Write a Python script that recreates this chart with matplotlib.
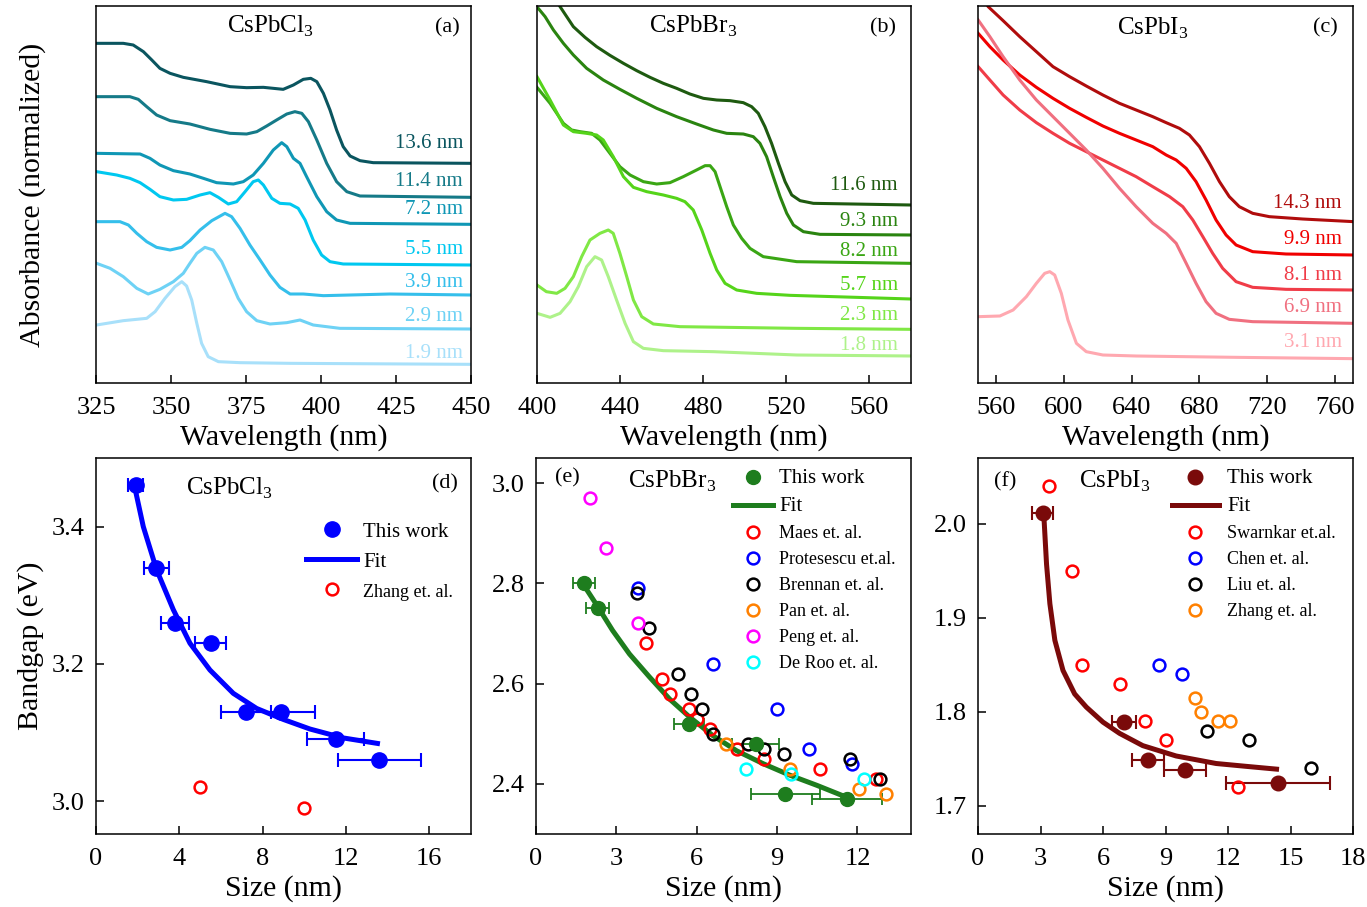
import matplotlib
matplotlib.use("Agg")
import matplotlib.pyplot as plt

plt.rcParams['font.family'] = 'Liberation Serif'
plt.rcParams['mathtext.fontset'] = 'custom'
plt.rcParams['mathtext.rm'] = 'Liberation Serif'
plt.rcParams['axes.linewidth'] = 1.1

# ---- absorbance spectra (offset, normalized) ----
cl_curves = {
    "13.6 nm": ([325.2, 334.1, 337.4, 340.8, 343.6, 346.3, 349.7, 354.1, 361.9, 369.7, 375.2, 380.8, 387.4, 390.8, 394.1,
                 396.6, 398.6, 400.8, 403, 405.2, 407.4, 409.7, 413, 417.4, 450],
                [10.10, 10.10, 10.05, 9.85, 9.60, 9.35, 9.20, 9.08, 8.95, 8.80, 8.77, 8.78, 8.72, 8.85, 9.02,
                 9.05, 8.95, 8.60, 8.10, 7.50, 7.00, 6.72, 6.58, 6.52, 6.50]),
    "11.4 nm": ([325.2, 336.3, 339.1, 341.9, 345.2, 349.7, 356.3, 363, 369.7, 375.2, 378.6, 381.9, 385.2, 388.6, 391.3,
                 393.6, 395.8, 398.6, 401.9, 405.2, 408.6, 413, 450],
                [8.50, 8.50, 8.42, 8.20, 7.95, 7.78, 7.68, 7.52, 7.40, 7.38, 7.45, 7.62, 7.80, 7.98, 8.05,
                 8.00, 7.75, 7.20, 6.50, 5.95, 5.65, 5.52, 5.48]),
    "7.2 nm": ([325.2, 339.7, 343, 346.3, 350.8, 356.3, 360.8, 365.2, 370.8, 374.1, 377.4, 380.8, 384.1, 386.9, 388.6,
                390.8, 393, 395.2, 398.6, 401.9, 405.2, 409.7, 450],
               [6.80, 6.78, 6.65, 6.45, 6.28, 6.18, 6.05, 5.92, 5.88, 5.95, 6.15, 6.50, 6.90, 7.12, 7.00,
                6.65, 6.50, 6.10, 5.50, 5.05, 4.80, 4.70, 4.67]),
    "5.5 nm": ([325.2, 331.9, 336.3, 339.7, 343, 346.3, 350.8, 355.2, 359.7, 363, 365.8, 369.1, 371.9, 374.7, 377.4,
                379.1, 380.8, 383.6, 386.3, 389.7, 392.4, 394.7, 397.4, 400.2, 403, 407.4, 450],
               [6.25, 6.15, 6.05, 5.92, 5.72, 5.50, 5.40, 5.42, 5.55, 5.62, 5.48, 5.28, 5.35, 5.65, 5.95,
                6.00, 5.85, 5.45, 5.30, 5.28, 5.15, 4.80, 4.20, 3.75, 3.55, 3.48, 3.45]),
    "3.9 nm": ([325.2, 333, 335.8, 338.6, 341.9, 345.2, 349.7, 353.6, 356.3, 359.7, 363.6, 368, 370.2, 373, 376.3,
                379.7, 383, 386.3, 389.7, 394.1, 400.8, 423, 450],
               [4.75, 4.75, 4.65, 4.40, 4.15, 3.98, 3.90, 3.98, 4.18, 4.50, 4.78, 5.00, 4.90, 4.55, 4.05,
                3.60, 3.15, 2.78, 2.58, 2.58, 2.53, 2.58, 2.55]),
    "2.9 nm": ([325.2, 329.7, 334.1, 338.6, 342.4, 346.3, 350.8, 354.1, 356.3, 358.6, 361.3, 364.1, 366.9, 369.7, 372.4,
                375.2, 378.6, 383, 388.6, 393, 397.4, 406.3, 450],
               [3.50, 3.35, 3.10, 2.75, 2.58, 2.72, 2.95, 3.20, 3.50, 3.80, 3.98, 3.90, 3.55, 3.00, 2.45,
                2.05, 1.78, 1.68, 1.72, 1.80, 1.65, 1.55, 1.53]),
    "1.9 nm": ([325.2, 334.1, 341.9, 344.7, 348, 351.3, 353.6, 355.2, 356.9, 358.6, 360.2, 362.4, 365.8, 373, 389.7, 450],
               [1.65, 1.78, 1.85, 2.05, 2.45, 2.80, 2.95, 2.82, 2.40, 1.70, 1.10, 0.70, 0.55, 0.52, 0.50, 0.47]),
}
cl_colors = ["#0a555f", "#157a88", "#0f97b5", "#00c8f0", "#35bfeb", "#6ed2f5", "#a8e0fa"]
cl_label_y = [7.10, 5.95, 5.10, 3.92, 2.92, 1.90, 0.80]

br_curves = {
    "11.6 nm": ([406, 411.1, 414.3, 417.5, 423.1, 428.7, 435.1, 441.6, 448, 454.4, 460.8, 467.2, 473.6, 480.1, 486.5,
                 492.9, 499.3, 503.3, 506.5, 509.7, 512.9, 516.2, 519.4, 522.6, 526.6, 533, 580],
                [11.75, 11.20, 10.90, 10.60, 10.28, 10.00, 9.74, 9.50, 9.28, 9.08, 8.90, 8.75, 8.58, 8.45, 8.40,
                 8.38, 8.32, 8.20, 8.00, 7.60, 7.10, 6.50, 5.95, 5.55, 5.38, 5.30, 5.25]),
    "9.3 nm": ([400.6, 403.9, 407.9, 412.7, 417.5, 423.9, 431.9, 439.9, 448, 457.6, 467.2, 476.8, 484.9, 491.3, 499.3,
                504.1, 507.3, 510.5, 513.7, 517, 520.2, 523.4, 528.2, 536.2, 580],
               [11.15, 10.90, 10.50, 10.10, 9.75, 9.35, 9.00, 8.72, 8.45, 8.15, 7.90, 7.68, 7.50, 7.40, 7.38,
                7.30, 7.10, 6.70, 6.10, 5.50, 5.00, 4.65, 4.45, 4.37, 4.35]),
    "8.2 nm": ([400, 406.3, 412.7, 416.7, 420.7, 426.3, 430.3, 435.1, 439.9, 444.8, 451.2, 457.6, 464, 470.4, 476.8,
                480.9, 483.3, 485.7, 488.1, 491.3, 494.5, 498.5, 502.5, 508.9, 525, 580],
               [8.78, 8.30, 7.70, 7.50, 7.45, 7.40, 7.20, 6.80, 6.40, 6.15, 5.95, 5.88, 5.92, 6.10, 6.30,
                6.43, 6.43, 6.25, 5.80, 5.20, 4.65, 4.25, 3.95, 3.70, 3.55, 3.50]),
    "5.7 nm": ([400, 406.3, 412.7, 417.5, 423.9, 428.7, 431.9, 436.7, 441.6, 446.4, 452.8, 460.8, 467.2, 471.2, 475.2,
                479.3, 483.3, 486.5, 490.5, 496.1, 505.7, 521.8, 580],
               [9.10, 8.40, 7.65, 7.45, 7.40, 7.35, 7.20, 6.70, 6.10, 5.78, 5.65, 5.55, 5.45, 5.35, 5.10,
                4.50, 3.80, 3.30, 2.90, 2.70, 2.60, 2.54, 2.43]),
    "2.3 nm": ([400, 404.5, 409.5, 413.5, 417.5, 421.5, 425.5, 430.3, 434.3, 436.7, 439.9, 443.2, 446.4, 450.4, 456,
                468.8, 525, 580],
               [2.85, 2.65, 2.60, 2.75, 3.10, 3.70, 4.20, 4.40, 4.50, 4.40, 3.80, 3.10, 2.40, 1.90, 1.68,
                1.60, 1.55, 1.52]),
    "1.8 nm": ([400, 406.3, 411.1, 415.9, 419.9, 423.9, 427.9, 431.1, 434.3, 438.3, 442.4, 446.4, 451.2, 460.8, 484.9,
                525, 580],
               [2.00, 1.88, 2.00, 2.35, 2.80, 3.40, 3.70, 3.60, 3.10, 2.40, 1.70, 1.15, 0.95, 0.88, 0.85,
                0.75, 0.72]),
}
br_colors = ["#1e5a10", "#2a8410", "#3aa614", "#55d41a", "#80e845", "#aef28a"]
br_label_y = [5.85, 4.75, 3.85, 2.82, 1.95, 1.05]

i_curves = {
    "14.3 nm": ([549, 555.5, 564.3, 574.1, 583.9, 593.7, 603.5, 613.3, 623.1, 632.9, 642.7, 652.5, 660.4, 668.2, 674.1,
                 680, 685.9, 691.8, 697.6, 703.5, 711.4, 721.2, 740.8, 771],
                [11.8, 11.20, 10.78, 10.30, 9.85, 9.40, 9.10, 8.82, 8.55, 8.30, 8.10, 7.90, 7.72, 7.55, 7.35,
                 7.00, 6.50, 5.95, 5.50, 5.20, 5.00, 4.90, 4.83, 4.75]),
    "9.9 nm": ([549.6, 556.5, 564.3, 574.1, 583.9, 593.7, 603.5, 613.3, 623.1, 632.9, 642.7, 652.5, 660.4, 666.3, 672.2,
                678, 683.9, 689.8, 695.7, 701.6, 711.4, 731, 771],
               [10.40, 10.00, 9.60, 9.15, 8.78, 8.45, 8.15, 7.88, 7.62, 7.40, 7.20, 7.00, 6.75, 6.60, 6.35,
                5.95, 5.40, 4.80, 4.35, 4.05, 3.85, 3.78, 3.75]),
    "8.1 nm": ([549.6, 556.5, 564.3, 574.1, 583.9, 593.7, 603.5, 613.3, 623.1, 632.9, 642.7, 652.5, 662.4, 670.2, 676.1,
                682, 687.8, 693.7, 701.6, 711.4, 731, 771],
               [9.40, 9.00, 8.55, 8.10, 7.72, 7.40, 7.10, 6.85, 6.60, 6.35, 6.10, 5.80, 5.50, 5.20, 4.80,
                4.30, 3.80, 3.35, 2.95, 2.78, 2.72, 2.70]),
    "6.9 nm": ([549.6, 556.5, 564.3, 574.1, 583.9, 593.7, 603.5, 613.3, 623.1, 632.9, 642.7, 652.5, 660.4, 666.3, 672.2,
                678, 683.9, 689.8, 697.6, 711.4, 771],
               [10.80, 10.30, 9.70, 9.00, 8.40, 7.90, 7.40, 6.90, 6.35, 5.75, 5.20, 4.70, 4.40, 4.10, 3.50,
                2.90, 2.35, 2.00, 1.82, 1.75, 1.70]),
    "3.1 nm": ([549.6, 562.4, 570.2, 578, 583.9, 588.8, 591.8, 594.7, 598.6, 602.5, 607.5, 613.3, 623.1, 642.7, 701.6, 771],
               [1.90, 1.92, 2.10, 2.50, 2.90, 3.20, 3.25, 3.15, 2.60, 1.80, 1.10, 0.85, 0.75, 0.72, 0.68, 0.64]),
}
i_colors = ["#b00c0c", "#f00000", "#f03c48", "#f07080", "#ffa8b0"]
i_label_y = [5.28, 4.20, 3.15, 2.18, 1.12]

# ---- bandgap vs size ----
cl_size = [1.9, 2.9, 3.8, 5.5, 7.2, 8.9, 11.5, 13.6]
cl_gap = [3.46, 3.34, 3.26, 3.23, 3.13, 3.13, 3.09, 3.06]
cl_err = [0.37, 0.62, 0.68, 0.76, 1.2, 1.6, 1.38, 1.98]
cl_fit_x = [1.87, 2.27, 2.91, 3.71, 4.51, 5.47, 6.59, 7.71, 8.99, 10.27, 11.87, 13.51]
cl_fit_y = [3.456, 3.40, 3.337, 3.279, 3.230, 3.191, 3.157, 3.135, 3.119, 3.105, 3.092, 3.084]
zhang_cl_x = [5.0, 10.0]
zhang_cl_y = [3.02, 2.99]

br_size = [1.8, 2.3, 5.7, 8.2, 9.3, 11.6]
br_gap = [2.80, 2.75, 2.52, 2.48, 2.38, 2.37]
br_err = [0.42, 0.42, 0.56, 0.87, 1.29, 1.31]
br_fit_x = [1.80, 2.24, 2.86, 3.49, 4.24, 4.99, 5.74, 6.61, 7.49, 8.49, 9.49, 10.49, 11.61]
br_fit_y = [2.795, 2.759, 2.706, 2.659, 2.613, 2.569, 2.533, 2.496, 2.466, 2.440, 2.417, 2.397, 2.373]
maes_x = [4.1, 4.7, 5.0, 5.7, 6.0, 6.5, 7.5, 8.5, 10.6, 12.7]
maes_y = [2.68, 2.61, 2.58, 2.55, 2.53, 2.51, 2.47, 2.45, 2.43, 2.41]
prot_x = [3.8, 6.6, 9.0, 10.2, 11.8]
prot_y = [2.79, 2.64, 2.55, 2.47, 2.44]
brennan_x = [3.76, 4.21, 5.30, 5.80, 6.21, 6.59, 7.92, 8.52, 9.24, 11.74, 12.84]
brennan_y = [2.78, 2.71, 2.62, 2.58, 2.55, 2.50, 2.48, 2.47, 2.46, 2.45, 2.41]
pan_x = [7.1, 9.5, 12.05, 13.05]
pan_y = [2.48, 2.43, 2.39, 2.38]
peng_x = [2.0, 2.6, 3.8]
peng_y = [2.97, 2.87, 2.72]
deroo_x = [7.84, 9.51, 12.24]
deroo_y = [2.43, 2.42, 2.41]

i_size = [3.1, 7.0, 8.15, 9.95, 14.4]
i_gap = [2.012, 1.789, 1.749, 1.738, 1.724]
i_err = [0.52, 0.57, 0.76, 1.01, 2.5]
i_fit_x = [3.16, 3.29, 3.45, 3.69, 4.08, 4.64, 5.20, 6.00, 6.80, 7.91, 9.51, 11.43, 12.86, 14.33]
i_fit_y = [2.009, 1.957, 1.915, 1.876, 1.844, 1.819, 1.805, 1.789, 1.777, 1.764, 1.753, 1.745, 1.742, 1.739]
swarnkar_x = [3.4, 4.5, 5.0, 6.8, 8.0, 9.0, 12.5]
swarnkar_y = [2.04, 1.95, 1.85, 1.83, 1.79, 1.77, 1.72]
chen_x = [8.7, 9.8]
chen_y = [1.85, 1.84]
liu_x = [11.0, 13.0, 16.0]
liu_y = [1.78, 1.77, 1.74]
zhang_i_x = [10.4, 10.7, 11.5, 12.1]
zhang_i_y = [1.815, 1.80, 1.79, 1.79]

W, H = 1367, 907
fig = plt.figure(figsize=(W / 100, H / 100), dpi=100)


def axes_px(l, r, t, b):
    return fig.add_axes([l / W, 1 - b / H, (r - l) / W, (b - t) / H])


def spectra(ax, curves, colors, label_y, label_x, xlim, xticks):
    for (name, (x, y)), c, ly in zip(curves.items(), colors, label_y):
        ax.plot(x, y, color=c, lw=2.2, solid_joinstyle='round')
        ax.text(label_x, ly, name, color=c, fontsize=15, ha='right', va='center')
    ax.set_xlim(*xlim)
    ax.set_ylim(-0.09, 11.22)
    ax.set_xticks(xticks)
    ax.set_yticks([])
    ax.tick_params(axis='x', direction='in', length=6, width=1.1, labelsize=19, pad=10)
    ax.set_xlabel('Wavelength (nm)', fontsize=21.5, labelpad=4)


def bandgap(ax, xlim, xticks, ylim, yticks):
    ax.set_xlim(*xlim)
    ax.set_ylim(*ylim)
    ax.set_xticks(xticks)
    ax.set_yticks(yticks)
    ax.set_yticklabels(['%.1f' % t for t in yticks])
    ax.tick_params(direction='in', length=6, width=1.1, labelsize=19)
    ax.tick_params(axis='x', pad=10)
    ax.tick_params(axis='y', pad=8)
    ax.set_xlabel('Size (nm)', fontsize=21.5, labelpad=4)


ax_a = axes_px(96, 471, 6, 383)
spectra(ax_a, cl_curves, cl_colors, cl_label_y, 447.3, (325, 450), range(325, 451, 25))
ax_a.set_ylabel('Absorbance (normalized)', fontsize=21.5, labelpad=36)
ax_a.text(0.464, 0.928, r'CsPbCl$_3$', transform=ax_a.transAxes, fontsize=18, ha='center', va='baseline')
ax_a.text(0.936, 0.93, '(a)', transform=ax_a.transAxes, fontsize=16, ha='center', va='baseline')

ax_b = axes_px(537, 911, 6, 383)
spectra(ax_b, br_curves, br_colors, br_label_y, 573.7, (400, 580), range(400, 561, 40))
ax_b.text(0.417, 0.928, r'CsPbBr$_3$', transform=ax_b.transAxes, fontsize=18, ha='center', va='baseline')
ax_b.text(0.925, 0.93, '(b)', transform=ax_b.transAxes, fontsize=16, ha='center', va='baseline')

ax_c = axes_px(978, 1353, 6, 383)
spectra(ax_c, i_curves, i_colors, i_label_y, 764, (549.5, 770.5), range(560, 761, 40))
ax_c.text(0.467, 0.923, r'CsPbI$_3$', transform=ax_c.transAxes, fontsize=18, ha='center', va='baseline')
ax_c.text(0.925, 0.93, '(c)', transform=ax_c.transAxes, fontsize=16, ha='center', va='baseline')

ms_open = dict(ls='none', marker='o', ms=8.5, mfc='none', mew=1.8)

# (d)
ax_d = axes_px(96, 471, 458, 834)
ax_d.errorbar(cl_size, cl_gap, xerr=cl_err, fmt='none', ecolor='#0000ff', elinewidth=1.5, capsize=5, capthick=1.5)
ax_d.plot(cl_size, cl_gap, 'o', color='#0000ff', ms=11, label='This work', zorder=4)
ax_d.plot(cl_fit_x, cl_fit_y, color='#0000ff', lw=3.6, label='Fit', solid_joinstyle='round')
ax_d.plot(zhang_cl_x, zhang_cl_y, mec='#ff0000', label='Zhang et. al.', **ms_open)
bandgap(ax_d, (0, 18), range(0, 17, 4), (2.952, 3.5), [3.0, 3.2, 3.4])
ax_d.set_ylabel('Bandgap (eV)', fontsize=21.5, labelpad=6)
ax_d.text(0.357, 0.902, r'CsPbCl$_3$', transform=ax_d.transAxes, fontsize=18, ha='center', va='baseline')
ax_d.text(0.93, 0.92, '(d)', transform=ax_d.transAxes, fontsize=16, ha='center', va='baseline')
leg = ax_d.legend(loc='upper left', bbox_to_anchor=(0.56, 0.83), frameon=False, fontsize=15,
                  handlelength=2.45, handletextpad=0.3, labelspacing=0.5, borderpad=0, borderaxespad=0)
leg.get_texts()[2].set_fontsize(13)

# (e)
ax_e = axes_px(536, 911, 458, 834)
ax_e.errorbar(br_size, br_gap, xerr=br_err, fmt='none', ecolor='#1e7d1e', elinewidth=1.3, capsize=4.5, capthick=1.3)
ax_e.plot(br_size, br_gap, 'o', color='#1e7d1e', ms=10, label='This work', zorder=4)
ax_e.plot(br_fit_x, br_fit_y, color='#1e7d1e', lw=3.6, label='Fit', solid_joinstyle='round')
ax_e.plot(maes_x, maes_y, mec='#ff0000', label='Maes et. al.', **ms_open)
ax_e.plot(prot_x, prot_y, mec='#0000ff', label='Protesescu et.al.', **ms_open)
ax_e.plot(brennan_x, brennan_y, mec='black', label='Brennan et. al.', **ms_open)
ax_e.plot(pan_x, pan_y, mec='#ff8000', label='Pan et. al.', **ms_open)
ax_e.plot(peng_x, peng_y, mec='#ff00ff', label='Peng et. al.', **ms_open)
ax_e.plot(deroo_x, deroo_y, mec='#00ffff', label='De Roo et. al.', **ms_open)
bandgap(ax_e, (0, 14), range(0, 13, 3), (2.3, 3.05), [2.4, 2.6, 2.8, 3.0])
ax_e.text(0.085, 0.934, '(e)', transform=ax_e.transAxes, fontsize=16, ha='center', va='baseline')
ax_e.text(0.363, 0.92, r'CsPbBr$_3$', transform=ax_e.transAxes, fontsize=18, ha='center', va='baseline')
leg = ax_e.legend(loc='upper left', bbox_to_anchor=(0.525, 0.97), frameon=False, fontsize=13,
                  handlelength=2.2, handletextpad=0.35, labelspacing=0.5, borderpad=0, borderaxespad=0)
for t in leg.get_texts()[:2]:
    t.set_fontsize(15)

# (f)
ax_f = axes_px(978, 1353, 458, 834)
ax_f.errorbar(i_size, i_gap, xerr=i_err, fmt='none', ecolor='#7a0a0a', elinewidth=1.5, capsize=5, capthick=1.5)
ax_f.plot(i_size, i_gap, 'o', color='#7a0a0a', ms=10.5, label='This work', zorder=4)
ax_f.plot(i_fit_x, i_fit_y, color='#7a0a0a', lw=3.6, label='Fit', solid_joinstyle='round')
ax_f.plot(swarnkar_x, swarnkar_y, mec='#ff0000', label='Swarnkar et.al.', **ms_open)
ax_f.plot(chen_x, chen_y, mec='#0000ff', label='Chen et. al.', **ms_open)
ax_f.plot(liu_x, liu_y, mec='black', label='Liu et. al.', **ms_open)
ax_f.plot(zhang_i_x, zhang_i_y, mec='#ff8000', label='Zhang et. al.', **ms_open)
bandgap(ax_f, (0, 18), range(0, 19, 3), (1.67, 2.07), [1.7, 1.8, 1.9, 2.0])
ax_f.text(0.072, 0.923, '(f)', transform=ax_f.transAxes, fontsize=16, ha='center', va='baseline')
ax_f.text(0.365, 0.92, r'CsPbI$_3$', transform=ax_f.transAxes, fontsize=18, ha='center', va='baseline')
leg = ax_f.legend(loc='upper left', bbox_to_anchor=(0.517, 0.97), frameon=False, fontsize=13,
                  handlelength=2.6, handletextpad=0.45, labelspacing=0.5, borderpad=0, borderaxespad=0)
for t in leg.get_texts()[:2]:
    t.set_fontsize(15)

fig.savefig('out.png', dpi=100)
